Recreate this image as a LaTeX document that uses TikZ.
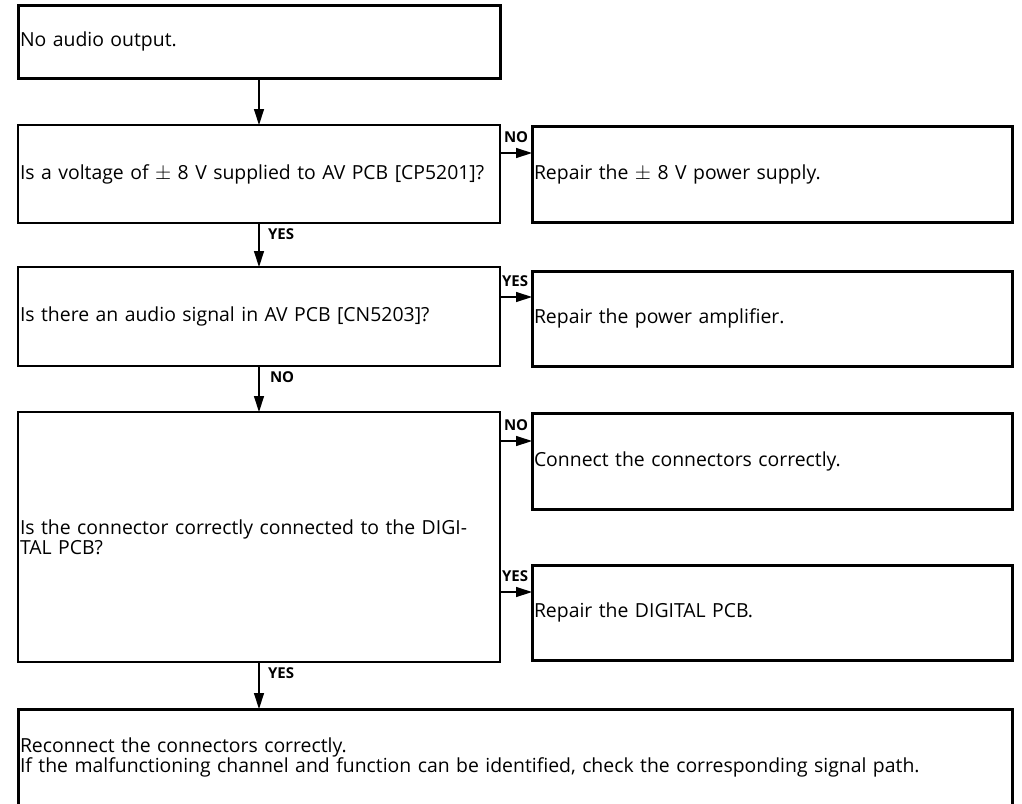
\documentclass[tikz,border=0pt]{standalone}
\usepackage{fontspec}
\setmainfont{Open Sans}
\usetikzlibrary{arrows.meta,calc}
\newcommand\plmn{\ensuremath{\pm}}
\begin{document}
\begin{tikzpicture}[x=1pt,y=-1pt,
 every node/.style={inner sep=0pt, outer sep=0pt},
 qbox/.style={draw, line width=1.3pt, rectangle, anchor=north west, align=left, inner xsep=2pt, font=\fontsize{19.4}{18}\selectfont},
 abox/.style={qbox, line width=3pt},
 lbl/.style={font=\bfseries\fontsize{15}{15}\selectfont},
 arr/.style={line width=1.3pt, -{Triangle[length=16pt,width=10pt]}}
]
\useasboundingbox (0,0) rectangle (1022,803);
\clip (0,0) rectangle (1022,803);
\node[abox, minimum width=482pt, minimum height=73pt, text width=478pt] (b1) at (18,5) {No audio output.};
\node[qbox, minimum width=482pt, minimum height=98pt, text width=478pt] (b2) at (18,125) {Is a voltage of \plmn{} 8 V supplied to AV PCB [CP5201]?};
\node[abox, minimum width=480pt, minimum height=96pt, text width=476pt] (r1) at (532,126) {Repair the \plmn{} 8 V power supply.};
\node[qbox, minimum width=482pt, minimum height=99pt, text width=478pt] (b3) at (18,267) {Is there an audio signal in AV PCB [CN5203]?};
\node[abox, minimum width=480pt, minimum height=95pt, text width=476pt] (r2) at (532,271) {Repair the power amplifier.};
\node[qbox, minimum width=482pt, minimum height=250pt, text width=478pt] (b4) at (18,412) {Is the connector correctly connected to the DIGI-\\TAL PCB?};
\node[abox, minimum width=480pt, minimum height=96pt, text width=476pt] (r3) at (532,413) {Connect the connectors correctly.};
\node[abox, minimum width=480pt, minimum height=95pt, text width=476pt] (r4) at (532,565) {Repair the DIGITAL PCB.};
\node[abox, minimum width=994pt, minimum height=97pt, text width=990pt] (b5) at (18,709) {Reconnect the connectors correctly.\\If the malfunctioning channel and function can be identified, check the corresponding signal path.};
% vertical arrows
\draw[arr] (b1.south) -- (b1.south |- b2.north);
\draw[arr] (b2.south) -- (b2.south |- b3.north);
\draw[arr] (b3.south) -- (b3.south |- b4.north);
\draw[arr] (b4.south) -- (b4.south |- b5.north);
\node[lbl, anchor=north west] (v1) at ($(b2.south)+(9,6)$) {YES};
\node[lbl, anchor=north west] (v2) at ($(b3.south)+(11,6)$) {NO};
\node[lbl, anchor=north west] (v3) at ($(b4.south)+(9,6)$) {YES};
% horizontal arrows
\coordinate (p1) at ([yshift=-27pt]r1.north west);
\coordinate (p2) at ([yshift=-26pt]r2.north west);
\coordinate (p3) at ([yshift=-28pt]r3.north west);
\coordinate (p4) at ([yshift=-27pt]r4.north west);
\draw[arr] (p1 -| b2.east) -- (p1);
\draw[arr] (p2 -| b3.east) -- (p2);
\draw[arr] (p3 -| b4.east) -- (p3);
\draw[arr] (p4 -| b4.east) -- (p4);
\node[lbl, anchor=base west] (h1) at ($(p1 -| b2.east)+(4,-11)$) {NO};
\node[lbl, anchor=base west] (h2) at ($(p2 -| b3.east)+(2,-11)$) {YES};
\node[lbl, anchor=base west] (h3) at ($(p3 -| b4.east)+(4,-11)$) {NO};
\node[lbl, anchor=base west] (h4) at ($(p4 -| b4.east)+(2,-11)$) {YES};
\end{tikzpicture}
\end{document}
